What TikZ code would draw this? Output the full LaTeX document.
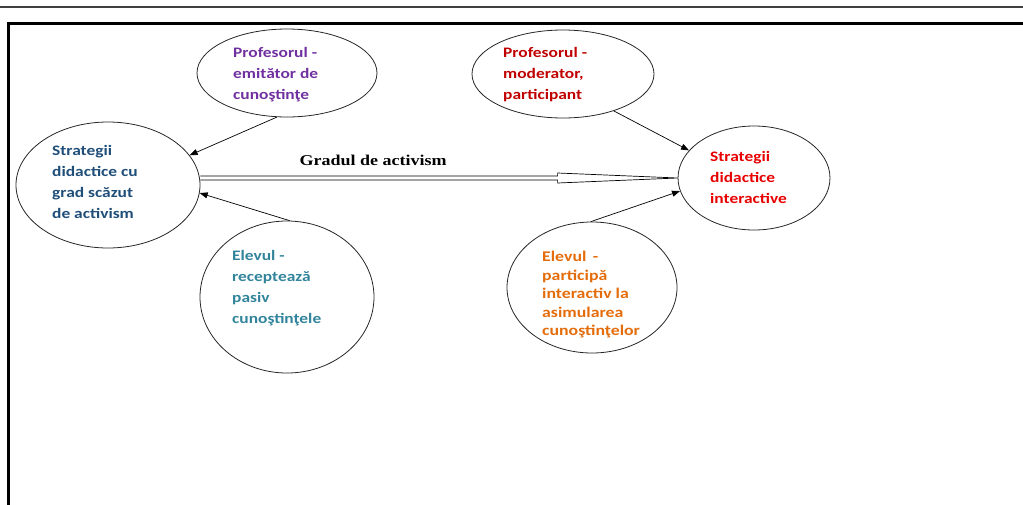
\documentclass[tikz,border=0pt]{standalone}
\usepackage{fontspec}
\usetikzlibrary{shapes.geometric,arrows.meta,calc}
\newfontfamily\calb[FakeStretch=1.2]{Carlito Bold}
\newfontfamily\timesb[FakeStretch=1.2]{Liberation Serif Bold}
\definecolor{cpurp}{HTML}{7030A0}
\definecolor{cdred}{HTML}{C00000}
\definecolor{cred}{HTML}{E80000}
\definecolor{cblue}{HTML}{1F4E79}
\definecolor{cteal}{HTML}{31849B}
\definecolor{corange}{HTML}{E46C0A}
\tikzset{
  bubble/.style={ellipse, draw=black!85, line width=0.8pt, inner sep=0pt},
  txt/.style={anchor=north west, align=left, inner sep=0pt, font=\calb\fontsize{14.5}{21}\selectfont},
  tighttxt/.style={txt, font=\calb\fontsize{14.8}{18.6}\selectfont},
  conn/.style={line width=0.7pt, -{Triangle[length=8pt,width=6pt]}},
}
\begin{document}
\begin{tikzpicture}[x=1pt,y=-1pt]
\useasboundingbox (0,0) rectangle (1023,504);
% frame
\draw[line width=2pt, black!75] (0,7) -- (1023,7);
\draw[line width=3pt] (8,510) -- (8,23.5) -- (1030,23.5);
% ellipses
\node[bubble, minimum width=184pt, minimum height=126pt] (L) at (108,185) {};
\node[bubble, minimum width=180pt, minimum height=88pt] (TL) at (287,73) {};
\node[bubble, minimum width=182pt, minimum height=88pt] (TR) at (563,74) {};
\node[bubble, minimum width=152pt, minimum height=104pt] (R) at (754,178) {};
\node[bubble, minimum width=174pt, minimum height=152pt] (BL) at (287,297) {};
\node[bubble, minimum width=170pt, minimum height=131pt] (BR) at (592,287.5) {};
% texts
\node[txt, text=cblue] (tL) at (52,145) {Strategii\\didactice cu\\grad scăzut\\de activism};
\node[txt, text=cpurp] (tTL) at (233,47) {Profesorul -\\emitător de\\cunoştinţe};
\node[txt, text=cdred] (tTR) at (503,47) {Profesorul -\\moderator,\\participant};
\node[txt, text=cred] (tR) at (710,151) {Strategii\\didactice\\interactive};
\node[txt, text=cteal] (tBL) at (232,250) {Elevul -\\receptează\\pasiv\\cunoştinţele};
\node[tighttxt, text=corange] (tBR) at (542,251) {Elevul \,-\\participă\\interactiv la\\asimularea\\cunoştinţelor};
% main double arrow
\draw[line width=0.7pt] ($(L.east)+(0,-9)$) -- ($(R.west)+(-120,-2)$) -- ($(R.west)+(-120,-5)$) -- (R.west) -- ($(R.west)+(-120,5)$) -- ($(R.west)+(-120,2)$) -- ($(L.east)+(0,-5)$);
\node[font=\timesb\fontsize{15}{18}\selectfont, anchor=base] (g) at (373,165) {Gradul de activism};
% connectors
\draw[conn] (TL.257) -- (L.20);
\draw[conn] (BL.88) -- (L.355);
\draw[conn] (TR.324) -- (R.157);
\draw[conn] (BR.91) -- (R.190);
\end{tikzpicture}
\end{document}
